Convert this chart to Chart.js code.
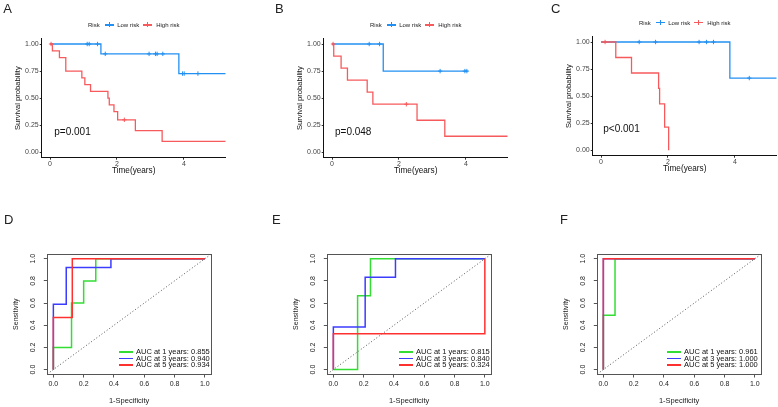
<!DOCTYPE html>
<html><head><meta charset="utf-8">
<script src="https://cdn.jsdelivr.net/npm/chart.js@4.4.1/dist/chart.umd.min.js"></script>
<style>
html,body{margin:0;padding:0;background:#fff;width:778px;height:407px;overflow:hidden;position:relative;font-family:"Liberation Sans",Arial,sans-serif;}
canvas{position:absolute;}
.lbl{position:absolute;font-size:13px;color:#222;line-height:1;}
.pv{position:absolute;font-size:10px;color:#111;line-height:1;white-space:nowrap;}
.kmleg{position:absolute;font-size:6px;color:#222;display:flex;align-items:center;white-space:nowrap;line-height:1;height:6px;}
.kkey{display:inline-block;width:9px;height:1.2px;position:relative;}
.kkey::after{content:'';position:absolute;left:4px;top:-2px;width:1px;height:5px;background:inherit;}
.rocleg{position:absolute;font-size:7.5px;color:#111;line-height:1;}
.rrow{display:flex;align-items:center;height:6.5px;white-space:nowrap;}
.rkey{display:inline-block;width:14px;height:1.5px;margin-right:3px;}
</style></head><body>
<canvas id="cA" width="260" height="185" style="left:0px;top:0px"></canvas>
<canvas id="cB" width="260" height="185" style="left:282px;top:0px"></canvas>
<canvas id="cC" width="260" height="185" style="left:551px;top:-2px"></canvas>
<canvas id="cD" width="240" height="207" style="left:0px;top:200px"></canvas>
<canvas id="cE" width="240" height="207" style="left:280.4px;top:200px"></canvas>
<canvas id="cF" width="240" height="207" style="left:550px;top:200px"></canvas>

<div class="lbl" style="left:3.3px;top:2.3px">A</div>
<div class="lbl" style="left:275px;top:2.3px">B</div>
<div class="lbl" style="left:551px;top:2.3px">C</div>
<div class="lbl" style="left:4px;top:213.3px">D</div>
<div class="lbl" style="left:272px;top:213.3px">E</div>
<div class="lbl" style="left:560px;top:213.3px">F</div>

<div class="pv" style="left:54.3px;top:127px">p=0.001</div>
<div class="pv" style="left:335px;top:127px">p=0.048</div>
<div class="pv" style="left:603.3px;top:123.5px">p&lt;0.001</div>

<div id="legA" class="kmleg" style="left:88px;top:22px"></div>
<div id="legB" class="kmleg" style="left:370px;top:22px"></div>
<div id="legC" class="kmleg" style="left:639px;top:19.7px"></div>

<div id="legD" class="rocleg" style="left:119px;top:348.5px"></div>
<div id="legE" class="rocleg" style="left:399px;top:348.5px"></div>
<div id="legF" class="rocleg" style="left:667px;top:348.5px"></div>

<script>
// ---------- tick labels ----------
const kmXTicks = [0, 2, 4];
const kmYTicks = [0, 0.25, 0.5, 0.75, 1];
const kmYTickLabels = ['0.00', '0.25', '0.50', '0.75', '1.00'];
const rocTicks = [0, 0.2, 0.4, 0.6, 0.8, 1.0];
const rocTickLabels = ['0.0', '0.2', '0.4', '0.6', '0.8', '1.0'];
const diagLine = [-0.04, 1.04];

const kmGroups = ['Low risk', 'High risk'];
const rocLabelsD = ['AUC at 1 years: 0.855', 'AUC at 3 years: 0.940', 'AUC at 5 years: 0.934'];
const rocLabelsE = ['AUC at 1 years: 0.815', 'AUC at 3 years: 0.840', 'AUC at 5 years: 0.324'];
const rocLabelsF = ['AUC at 1 years: 0.961', 'AUC at 3 years: 1.000', 'AUC at 5 years: 1.000'];

// ---------- Panel A (KM) ----------
const aLowTime = [0, 1.52, 3.85, 5.25];
const aLowSurv = [1, 0.909, 0.727, 0.727];
const aLowCensTime = [1.11, 1.17, 1.42, 1.65, 2.96, 3.15, 3.2, 3.37, 3.96, 4.01, 4.42];
const aLowCensSurv = [1, 1, 1, 0.909, 0.909, 0.909, 0.909, 0.909, 0.727, 0.727, 0.727];
const aHighTime = [0, 0.07, 0.28, 0.47, 0.95, 1.04, 1.21, 1.73, 1.77, 1.91, 2.02, 2.55, 3.35, 5.25];
const aHighSurv = [1, 0.9375, 0.875, 0.75, 0.6875, 0.625, 0.5625, 0.5, 0.4375, 0.375, 0.3, 0.2, 0.1, 0.1];
const aHighCensTime = [0.03, 2.22];
const aHighCensSurv = [1, 0.3];

// ---------- Panel B (KM) ----------
const bLowTime = [0, 1.53, 4.05];
const bLowSurv = [1, 0.75, 0.75];
const bLowCensTime = [1.11, 1.42, 3.23, 3.97, 4.03];
const bLowCensSurv = [1, 1, 0.75, 0.75, 0.75];
const bHighTime = [0, 0.05, 0.27, 0.46, 1.05, 1.22, 2.54, 3.37, 5.25];
const bHighSurv = [1, 0.889, 0.778, 0.667, 0.556, 0.444, 0.296, 0.148, 0.148];
const bHighCensTime = [0.03, 2.22];
const bHighCensSurv = [1, 0.444];

// ---------- Panel C (KM) ----------
const cLowTime = [0, 3.85, 5.25];
const cLowSurv = [1, 0.667, 0.667];
const cLowCensTime = [1.14, 1.63, 2.93, 3.15, 3.36, 4.43];
const cLowCensSurv = [1, 1, 1, 1, 1, 0.667];
const cHighTime = [0, 0.44, 0.91, 1.72, 1.75, 1.90, 2.02];
const cHighSurv = [1, 0.857, 0.714, 0.571, 0.429, 0.214, 0];
const cHighCensTime = [0.12];
const cHighCensSurv = [1];

// ---------- Panel D (ROC) ----------
const dFpr1 = [0, 0, 0.12, 0.12, 0.2, 0.2, 0.28, 0.28, 1];
const dTpr1 = [0, 0.2, 0.2, 0.6, 0.6, 0.8, 0.8, 1, 1];
const dFpr3 = [0, 0, 0.085, 0.085, 0.38, 0.38, 1];
const dTpr3 = [0, 0.59, 0.59, 0.92, 0.92, 1, 1];
const dFpr5 = [0, 0, 0.125, 0.125, 1];
const dTpr5 = [0, 0.47, 0.47, 1, 1];

// ---------- Panel E (ROC) ----------
const eFpr1 = [0, 0.16, 0.16, 0.245, 0.245, 1];
const eTpr1 = [0, 0, 0.667, 0.667, 1, 1];
const eFpr3 = [0, 0, 0.21, 0.21, 0.41, 0.41, 1];
const eTpr3 = [0, 0.385, 0.385, 0.833, 0.833, 1, 1];
const eFpr5 = [0, 0, 1, 1];
const eTpr5 = [0, 0.324, 0.324, 1];

// ---------- Panel F (ROC) ----------
const fFpr1 = [0, 0, 0.077, 0.077, 1];
const fTpr1 = [0, 0.49, 0.49, 1, 1];
const fFpr3 = [0, 0, 1];
const fTpr3 = [0, 1, 1];
const fFpr5 = [0, 0, 1];
const fTpr5 = [0, 1, 1];

// ---------- styling ----------
const FONT = '"Liberation Sans", Arial, sans-serif';
Chart.defaults.font.family = FONT;
const KM_BLUE = '#2290F2';
const KM_RED = '#F65A5C';
const R_GREEN = '#33DD33';
const R_BLUE = '#3C3CFF';
const R_RED = '#FF3030';

const zip = (xs, ys) => xs.map((x, i) => ({x: x, y: ys[i]}));

function kmChart(id, lowT, lowS, lowCT, lowCS, highT, highS, highCT, highCS) {
  new Chart(document.getElementById(id), {
    type: 'line',
    data: {datasets: [
      {label: kmGroups[1], data: zip(highT, highS), borderColor: KM_RED, borderWidth: 1.3, stepped: 'before', pointRadius: 0, fill: false, order: 0},
      {label: kmGroups[1] + ' censor', data: zip(highCT, highCS), showLine: false, pointStyle: 'cross', pointRadius: 2.2, pointBorderColor: KM_RED, pointBorderWidth: 1, borderColor: KM_RED, order: 0},
      {label: kmGroups[0], data: zip(lowT, lowS), borderColor: KM_BLUE, borderWidth: 1.3, stepped: 'before', pointRadius: 0, fill: false, order: 1},
      {label: kmGroups[0] + ' censor', data: zip(lowCT, lowCS), showLine: false, pointStyle: 'cross', pointRadius: 2.2, pointBorderColor: KM_BLUE, pointBorderWidth: 1, borderColor: KM_BLUE, order: 1}
    ]},
    options: {
      responsive: false, animation: false, events: [],
      plugins: {legend: {display: false}, tooltip: {enabled: false}},
      layout: {padding: {left: 0, right: 34.3, top: 38.6, bottom: 0}},
      scales: {
        x: {
          type: 'linear', min: -0.25, max: 5.25,
          afterBuildTicks: s => { s.ticks = kmXTicks.map(v => ({value: v})); },
          afterFit: s => { s.height = 27.3; },
          grid: {drawOnChartArea: false, tickLength: 2, color: '#333', lineWidth: 1},
          border: {display: true, color: '#111', width: 1},
          ticks: {font: {size: 7, lineHeight: 1}, color: '#444', padding: 0.5, maxRotation: 0, autoSkip: false},
          title: {display: true, text: 'Time(years)', font: {size: 8.2}, color: '#111', padding: {top: 0, bottom: 9.2}}
        },
        y: {
          type: 'linear', min: -0.05, max: 1.05,
          afterBuildTicks: s => { s.ticks = kmYTicks.map(v => ({value: v})); },
          afterFit: s => { s.width = 41.7; },
          grid: {drawOnChartArea: false, tickLength: 2, color: '#333', lineWidth: 1},
          border: {display: true, color: '#111', width: 1},
          ticks: {font: {size: 7}, color: '#444', padding: 1, autoSkip: false, callback: (v, i) => kmYTickLabels[i]},
          title: {display: true, text: 'Survival probability', font: {size: 7.6}, color: '#111', padding: {top: 13.3, bottom: 0}}
        }
      }
    }
  });
}

const boxPlugin = {
  id: 'rbox',
  beforeDatasetsDraw(chart) {
    const {ctx, chartArea: a} = chart;
    ctx.save();
    ctx.strokeStyle = '#555';
    ctx.lineWidth = 1;
    ctx.strokeRect(Math.round(a.left) + 0.5, Math.round(a.top) + 0.5, Math.round(a.right - a.left), Math.round(a.bottom - a.top));
    ctx.restore();
  }
};

function rocChart(id, f1, t1, f3, t3, f5, t5, labels) {
  new Chart(document.getElementById(id), {
    type: 'line',
    data: {datasets: [
      {label: labels[2], data: zip(f5, t5), borderColor: R_RED, borderWidth: 1.5, pointRadius: 0, fill: false, order: 0},
      {label: labels[1], data: zip(f3, t3), borderColor: R_BLUE, borderWidth: 1.5, pointRadius: 0, fill: false, order: 1},
      {label: labels[0], data: zip(f1, t1), borderColor: R_GREEN, borderWidth: 1.5, pointRadius: 0, fill: false, order: 2},
      {label: 'reference', data: zip(diagLine, diagLine), borderColor: '#555', borderWidth: 1, borderDash: [1, 2.2], pointRadius: 0, fill: false, order: 3}
    ]},
    options: {
      responsive: false, animation: false, events: [],
      plugins: {legend: {display: false}, tooltip: {enabled: false}},
      layout: {padding: {left: 0, right: 29.1, top: 54.3, bottom: 0}},
      scales: {
        x: {
          type: 'linear', min: -0.04, max: 1.04,
          afterBuildTicks: s => { s.ticks = rocTicks.map(v => ({value: v})); },
          afterFit: s => { s.height = 33; },
          grid: {drawOnChartArea: false, tickLength: 3.5, color: '#555'},
          border: {display: false},
          ticks: {font: {size: 7, lineHeight: 1}, color: '#222', padding: 3.3, maxRotation: 0, autoSkip: false, callback: (v, i) => rocTickLabels[i]},
          title: {display: true, text: '1-Specificity', font: {size: 7.5}, color: '#222', padding: {top: 0, bottom: 1.8}}
        },
        y: {
          type: 'linear', min: -0.04, max: 1.04,
          afterBuildTicks: s => { s.ticks = rocTicks.map(v => ({value: v})); },
          afterFit: s => { s.width = 47.3; },
          grid: {drawOnChartArea: false, tickLength: 3.5, color: '#555'},
          border: {display: false},
          ticks: {font: {size: 7}, color: '#222', padding: 5.6, minRotation: 90, maxRotation: 90, crossAlign: 'center', autoSkip: false, callback: (v, i) => rocTickLabels[i]},
          title: {display: true, text: 'Sensitivity', font: {size: 7}, color: '#222', padding: {top: 11.8, bottom: 0}}
        }
      }
    },
    plugins: [boxPlugin]
  });
}

kmChart('cA', aLowTime, aLowSurv, aLowCensTime, aLowCensSurv, aHighTime, aHighSurv, aHighCensTime, aHighCensSurv);
kmChart('cB', bLowTime, bLowSurv, bLowCensTime, bLowCensSurv, bHighTime, bHighSurv, bHighCensTime, bHighCensSurv);
kmChart('cC', cLowTime, cLowSurv, cLowCensTime, cLowCensSurv, cHighTime, cHighSurv, cHighCensTime, cHighCensSurv);
rocChart('cD', dFpr1, dTpr1, dFpr3, dTpr3, dFpr5, dTpr5, rocLabelsD);
rocChart('cE', eFpr1, eTpr1, eFpr3, eTpr3, eFpr5, eTpr5, rocLabelsE);
rocChart('cF', fFpr1, fTpr1, fFpr3, fTpr3, fFpr5, fTpr5, rocLabelsF);

// ---------- legends (HTML text) ----------
function kmLegend(id) {
  const el = document.getElementById(id);
  el.innerHTML =
    '<span>Risk</span>' +
    '<span class="kkey" style="background:' + KM_BLUE + ';margin:0 3.5px 0 5px"></span>' +
    '<span>' + kmGroups[0] + '</span>' +
    '<span class="kkey" style="background:' + KM_RED + ';margin:0 4px 0 4px"></span>' +
    '<span>' + kmGroups[1] + '</span>';
}
['legA', 'legB', 'legC'].forEach(kmLegend);

function rocLegend(id, labels) {
  const cols = [R_GREEN, R_BLUE, R_RED];
  document.getElementById(id).innerHTML = labels.map((t, i) =>
    '<div class="rrow"><span class="rkey" style="background:' + cols[i] + '"></span><span>' + t + '</span></div>').join('');
}
rocLegend('legD', rocLabelsD);
rocLegend('legE', rocLabelsE);
rocLegend('legF', rocLabelsF);
</script>
</body></html>
